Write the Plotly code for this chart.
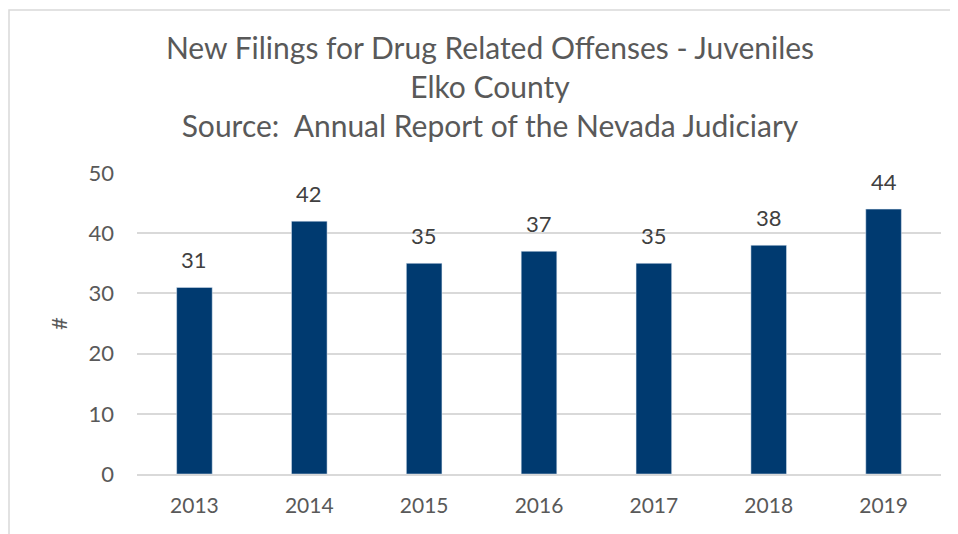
import plotly.graph_objects as go

years = ["2013", "2014", "2015", "2016", "2017", "2018", "2019"]
filings = [31, 42, 35, 37, 35, 38, 44]
y_ticks = [0, 10, 20, 30, 40, 50]

font_family = "Lato, 'Open Sans', sans-serif"
text_color = "#595959"

W, H = 958, 534
L, R, T, B = 129, 25, 165, 68
plot_w = W - L - R
plot_h = H - T - B

fig = go.Figure(go.Bar(
    x=years, y=filings,
    marker=dict(color="#003a70"),
    width=0.31,
    hoverinfo="x+y",
))

# category positions are indices 0..n-1 on the category axis
annotations = [
    dict(x=i, y=v, xref="x", yref="y", text=str(v), showarrow=False,
         yanchor="bottom", yshift=12,
         font=dict(size=22, color="#404040", family=font_family))
    for i, v in enumerate(filings)
]

fig.update_layout(
    width=W, height=H,
    margin=dict(l=L, r=R, t=T, b=B),
    paper_bgcolor="white", plot_bgcolor="white",
    font=dict(family=font_family, color=text_color),
    title=dict(
        text="New Filings for Drug Related Offenses - Juveniles<br>Elko County<br>Source:  Annual Report of the Nevada Judiciary",
        x=(490 - 8) / W, xanchor="center", y=0.905, yanchor="top",
        font=dict(size=30, color=text_color, family=font_family),
    ),
    showlegend=False,
    annotations=annotations,
    shapes=[dict(type="rect", xref="paper", yref="paper",
                 x0=-(L - 1) / plot_w, x1=1.2, y0=-0.5, y1=1 + (T - 2) / plot_h,
                 line=dict(color="#d9d9d9", width=1.5), layer="below")],
)
fig.update_xaxes(type="category", categoryorder="array", categoryarray=years,
                 range=[-0.5, len(years) - 0.5],
                 showgrid=False, showline=True, linecolor="#d9d9d9", linewidth=2,
                 tickfont=dict(size=21, color=text_color, family=font_family),
                 ticks="", ticklabelstandoff=12)
fig.update_yaxes(range=[0, 50], tickvals=y_ticks, showgrid=True, gridcolor="#d9d9d9", gridwidth=1.5,
                 zeroline=False, showline=False,
                 tickfont=dict(size=22, color=text_color, family=font_family),
                 ticks="", ticklabelstandoff=22,
                 title=dict(text="#", font=dict(size=22, color=text_color, family=font_family),
                            standoff=14))

fig.write_html("out.html")
